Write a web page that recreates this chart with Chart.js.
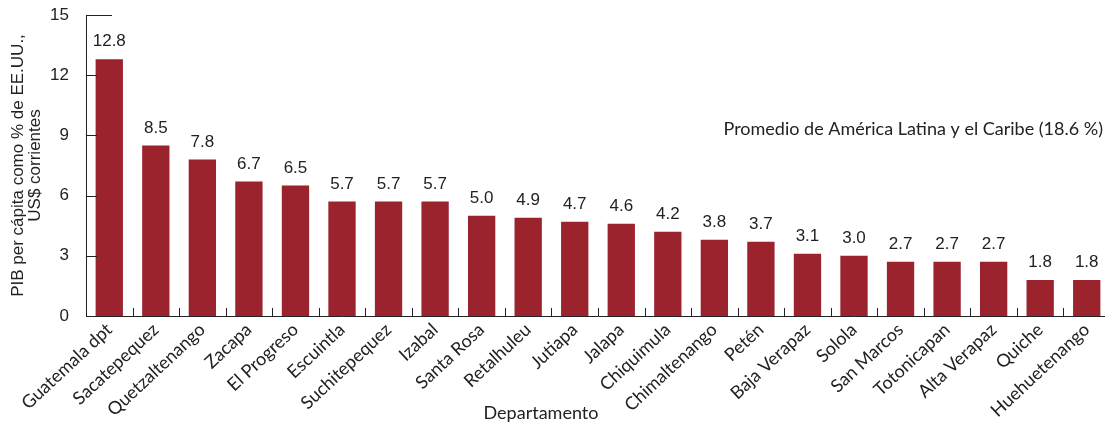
<!DOCTYPE html>
<html>
<head>
<meta charset="utf-8">
<script src="https://cdn.jsdelivr.net/npm/chart.js@4"></script>
<style>
  html, body { margin: 0; padding: 0; background: #fff; overflow: hidden; }
  #wrap { width: 1110px; height: 423px; }
</style>
</head>
<body>
<div id="wrap"><canvas id="myCanvas"></canvas></div>
<script>
const departamentos = [
  "Guatemala dpt", "Sacatepequez", "Quetzaltenango", "Zacapa", "El Progreso",
  "Escuintla", "Suchitepequez", "Izabal", "Santa Rosa", "Retalhuleu", "Jutiapa",
  "Jalapa", "Chiquimula", "Chimaltenango", "Petén", "Baja Verapaz", "Solola",
  "San Marcos", "Totonicapan", "Alta Verapaz", "Quiche", "Huehuetenango"
];
const pibPerCapita = [
  12.8, 8.5, 7.8, 6.7, 6.5, 5.7, 5.7, 5.7, 5.0, 4.9, 4.7,
  4.6, 4.2, 3.8, 3.7, 3.1, 3.0, 2.7, 2.7, 2.7, 1.8, 1.8
];
const yTicks = [0, 3, 6, 9, 12, 15];
const promedioTexto = "Promedio de América Latina y el Caribe (18.6 %)";
const xTitulo = "Departamento";

const barColor = "#9b232e";
const textColor = "#222";
const labelFont = "Lato";
const numFont = "'Liberation Sans', Arial, sans-serif";

// value labels over each bar
const valueLabels = {
  id: "valueLabels",
  afterDatasetsDraw(chart) {
    const ctx = chart.ctx;
    const meta = chart.getDatasetMeta(0);
    ctx.save();
    ctx.fillStyle = textColor;
    ctx.font = "17px " + numFont;
    ctx.textAlign = "center";
    ctx.textBaseline = "bottom";
    meta.data.forEach((bar, i) => {
      ctx.fillText(pibPerCapita[i].toFixed(1), bar.x, bar.y - 9);
    });
    ctx.restore();
  }
};

// inward tick marks, note text and x title
const extras = {
  id: "extras",
  afterDraw(chart) {
    const ctx = chart.ctx;
    const area = chart.chartArea;
    const y = chart.scales.y;
    const meta = chart.getDatasetMeta(0);
    ctx.save();
    ctx.strokeStyle = "#222";
    ctx.lineWidth = 1;
    ctx.beginPath();
    yTicks.forEach((v) => {
      const py = Math.round(y.getPixelForValue(v)) + 0.5;
      ctx.moveTo(area.left, py);
      ctx.lineTo(area.left + (v === 15 ? 26 : 11), py);
    });
    for (let i = 1; i < meta.data.length; i++) {
      const px = Math.round((meta.data[i - 1].x + meta.data[i].x) / 2) + 0.5;
      ctx.moveTo(px, area.bottom);
      ctx.lineTo(px, area.bottom - 8);
    }
    ctx.stroke();

    ctx.fillStyle = textColor;
    ctx.font = "18px " + labelFont;
    ctx.textAlign = "right";
    ctx.textBaseline = "middle";
    ctx.fillText(promedioTexto, 1103, 129);

    ctx.textAlign = "center";
    ctx.textBaseline = "alphabetic";
    ctx.fillText(xTitulo, 541, 419);
    ctx.restore();
  }
};

new Chart(document.getElementById("myCanvas"), {
  type: "bar",
  data: {
    labels: departamentos,
    datasets: [{
      data: pibPerCapita,
      backgroundColor: barColor,
      barPercentage: 0.587,
      categoryPercentage: 1
    }]
  },
  options: {
    responsive: true,
    maintainAspectRatio: false,
    animation: false,
    layout: { padding: { top: 15, right: 0, left: 0, bottom: 0 } },
    plugins: { legend: { display: false }, tooltip: { enabled: false } },
    scales: {
      x: {
        grid: { display: false, drawTicks: false },
        border: { display: true, color: "#222", width: 1 },
        ticks: {
          color: textColor,
          font: { family: labelFont, size: 18 },
          maxRotation: 43,
          minRotation: 43,
          padding: 3,
          autoSkip: false
        },
        afterFit(scale) { scale.height = 107; }
      },
      y: {
        min: 0,
        max: 15,
        afterBuildTicks(scale) { scale.ticks = yTicks.map((v) => ({ value: v })); },
        grid: { display: false, drawTicks: false },
        border: { display: true, color: "#222", width: 1 },
        ticks: {
          color: textColor,
          font: { family: numFont, size: 17 },
          padding: 17
        },
        title: {
          display: true,
          text: ["PIB per cápita como % de EE.UU.,", "US$ corrientes"],
          color: textColor,
          font: { family: numFont, size: 17, lineHeight: 1.0 },
          padding: { top: 10, bottom: 0 }
        },
        afterFit(scale) {
          scale.width = 86;
          scale.paddingTop = 0;
          scale.paddingBottom = 0;
        }
      }
    }
  },
  plugins: [valueLabels, extras]
});
</script>
</body>
</html>
